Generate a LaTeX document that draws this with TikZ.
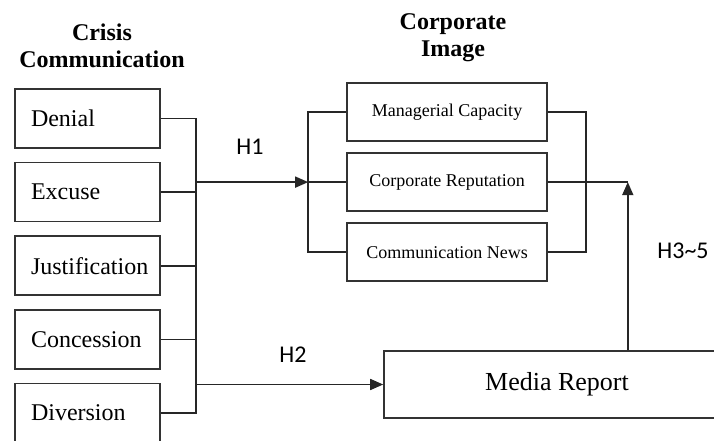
\documentclass[tikz,border=0pt]{standalone}
\usepackage{fontspec}
\setmainfont{Liberation Serif}
\newfontfamily\hfont{Carlito}
\usetikzlibrary{arrows.meta, positioning, calc}

\tikzset{
 stratbox/.style={draw=black!80, line width=1.6pt, minimum height=59pt, text width=113pt, inner xsep=16pt, align=left, font=\fontsize{24}{28}\selectfont},
 imgbox/.style={draw=black!80, line width=1.6pt, minimum height=58pt, minimum width=200pt, font=\fontsize{18}{22}\selectfont},
 headline/.style={align=center, font=\fontsize{24}{27}\selectfont\bfseries},
 hyp/.style={font=\hfont\fontsize{24}{28}\selectfont},
 link/.style={black!85, line width=1.6pt},
 arr/.style={link, -{Triangle[length=13pt,width=11pt]}},
}

\begin{document}
\begin{tikzpicture}[x=1pt,y=-1pt]
\useasboundingbox (0,0) rectangle (714,441);
% strategies
\node[headline] (CC) at (102,46) {Crisis\\Communication};
\node[stratbox] (Denial) at (87.5,118.5) {Denial};
\node[stratbox, below=13pt of Denial] (Excuse) {Excuse};
\node[stratbox, below=13pt of Excuse] (Justif) {Justification};
\node[stratbox, below=13pt of Justif] (Conc) {Concession};
\node[stratbox, below=13pt of Conc] (Divers) {Diversion};
% image
\node[headline] (CI) at (453,38) {Corporate\\Image};
\node[imgbox] (Manag) at (447,112) {Managerial Capacity};
\node[imgbox, below=10.5pt of Manag] (Reput) {Corporate Reputation};
\node[imgbox, below=10.5pt of Reput] (News) {Communication News};
\node[draw=black!80, line width=1.6pt, minimum width=346pt, minimum height=67pt, font=\fontsize{26}{30}\selectfont] (Media) at (557,384.5) {Media Report};
% junctions
\coordinate (J3) at ($(Reput.west)+(-38,0)$);
\coordinate (J1) at ($(J3)+(-112,0)$);
\coordinate (J4) at ($(Reput.east)+(38,0)$);
\coordinate (J5) at ($(Reput.east)+(80,0)$);
\draw[link] (Denial.east) -| (J1);
\draw[link] (Excuse.east) -| (J1);
\draw[link] (Justif.east) -| (J1);
\draw[link] (Conc.east) -| (J1);
\draw[link] (Divers.east) -| (J1);
\draw[arr] (J1) -- (J3);
\draw[link] (Manag.west) -| (J3);
\draw[link] (News.west) -| (J3);
\draw[link] (J3) -- (Reput.west);
\draw[link] (Manag.east) -| (J4);
\draw[link] (News.east) -| (J4);
\draw[link] (Reput.east) -- (J5);
\draw[arr] (Media.north -| J5) -- (J5);
\draw[arr] (J1 |- Media.west) -- (Media.west);
% hypotheses
\node[hyp] (H1) at (250,147) {H1};
\node[hyp] (H2) at (293,355) {H2};
\node[hyp] (H35) at (683,251) {H3\textasciitilde5};
\end{tikzpicture}
\end{document}
